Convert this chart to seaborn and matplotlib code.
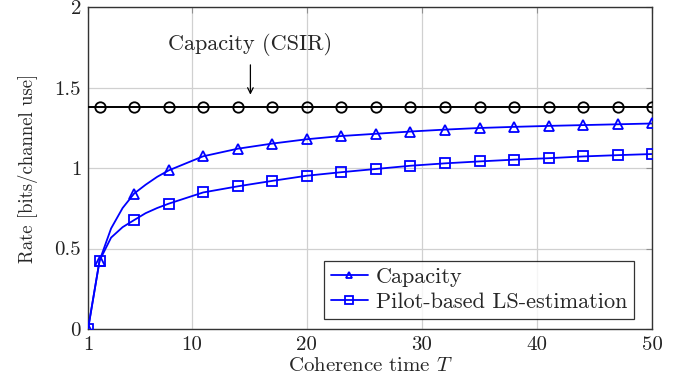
import matplotlib
matplotlib.use("Agg")
import matplotlib.pyplot as plt
import seaborn as sns
import numpy as np

# Data
T = [1, 2, 3, 4, 5, 6, 7, 8, 11, 14, 17, 20, 23, 26, 29, 32, 35, 38, 41, 44, 47, 50]
capacity = [0.0, 0.425, 0.625, 0.752, 0.842, 0.897, 0.946, 0.986, 1.074, 1.121, 1.153,
            1.180, 1.200, 1.214, 1.228, 1.240, 1.250, 1.257, 1.263, 1.268, 1.273, 1.278]
pilot_ls = [0.0, 0.425, 0.568, 0.633, 0.677, 0.720, 0.752, 0.779, 0.849, 0.887, 0.921,
            0.953, 0.975, 0.995, 1.015, 1.030, 1.042, 1.053, 1.062, 1.073, 1.081, 1.088]
T_csir = [1, 2, 5, 8, 11, 14, 17, 20, 23, 26, 29, 32, 35, 38, 41, 44, 47, 50]
capacity_csir = [1.378] * len(T_csir)
marker_idx = [0, 1, 4] + list(range(7, len(T)))
csir_marker_idx = list(range(1, len(T_csir)))

x_ticks = [1, 10, 20, 30, 40, 50]
y_ticks = [0, 0.5, 1, 1.5, 2]

sns.set_style("white")
plt.rcParams["font.family"] = ["cmr10", "DejaVu Serif"]
plt.rcParams["mathtext.fontset"] = "cm"
plt.rcParams["axes.formatter.use_mathtext"] = True

fig = plt.figure(figsize=(6.88, 3.92), dpi=100)
ax = fig.add_axes([0.128, 0.161, 0.820, 0.820])

blue = "#0000ff"
sns.lineplot(x=T_csir, y=capacity_csir, ax=ax, color="black", lw=1.4,
             marker="o", markersize=7.5, markerfacecolor="none", markeredgecolor="black",
             markeredgewidth=1.3, markevery=csir_marker_idx, zorder=3)
sns.lineplot(x=T, y=capacity, ax=ax, color=blue, lw=1.3, marker="^", markersize=7,
             markerfacecolor="none", markeredgecolor=blue, markeredgewidth=1.3,
             markevery=marker_idx, label="Capacity", zorder=3)
sns.lineplot(x=T, y=pilot_ls, ax=ax, color=blue, lw=1.3, marker="s", markersize=7.5,
             markerfacecolor="none", markeredgecolor=blue, markeredgewidth=1.3,
             markevery=marker_idx, label="Pilot-based LS-estimation", zorder=3)

ax.set_xlim(1, 50)
ax.set_ylim(0, 2)
ax.set_xticks(x_ticks)
ax.set_yticks(y_ticks)
ax.set_xticklabels([str(v) for v in x_ticks])
ax.set_yticklabels(["0", "0.5", "1", "1.5", "2"])
ax.grid(True, color="#d0d0d0", lw=0.9)
ax.set_axisbelow(True)
ax.tick_params(direction="in", length=4, color="#909090", labelsize=15, top=True, right=True,
               labelcolor="#222222", pad=5)
for s in ax.spines.values():
    s.set_color("#333333")
    s.set_linewidth(1.0)

ax.set_xlabel("Coherence time $T$", fontsize=15, labelpad=2)
ax.set_ylabel("Rate [bits/channel use]", fontsize=13.5, labelpad=12)

ax.annotate("", xy=(15.1, 1.44), xytext=(15.1, 1.66),
            arrowprops=dict(arrowstyle="->", color="black", lw=0.9))
ax.text(15.1, 1.77, "Capacity (CSIR)", ha="center", va="center", fontsize=16)

leg = ax.legend(loc="lower right", fontsize=16, frameon=True, fancybox=False,
                edgecolor="black", handlelength=1.7, borderpad=0.3, labelspacing=0.25,
                handletextpad=0.35, markerscale=0.7, borderaxespad=0,
                bbox_to_anchor=(0.968, 0.031))
leg.get_frame().set_linewidth(0.9)

fig.savefig("out.png", dpi=100)
